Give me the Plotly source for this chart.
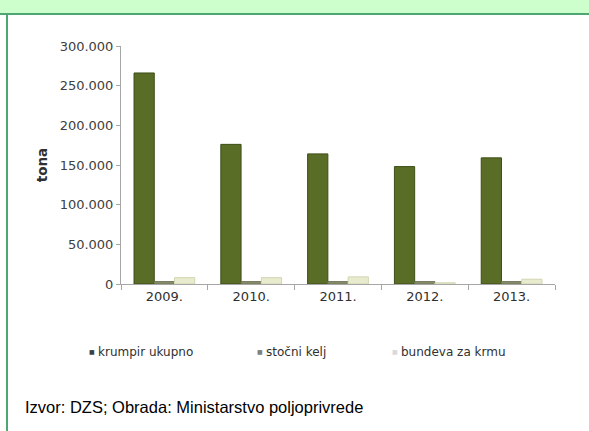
import plotly.graph_objects as go

years = ["2009.", "2010.", "2011.", "2012.", "2013."]
krumpir_ukupno = [266000, 176000, 164000, 148000, 159000]
stocni_kelj = [3000, 3000, 3000, 3000, 3000]
bundeva_za_krmu = [8000, 8000, 9000, 1500, 6000]
series_names = ["krumpir ukupno", "stočni kelj", "bundeva za krmu"]
y_ticks = [0, 50000, 100000, 150000, 200000, 250000, 300000]
y_tick_text = ["0", "50.000", "100.000", "150.000", "200.000", "250.000", "300.000"]

W, H = 589, 431
L, R, T, B = 121, 555, 46, 284

def px(x):
    return (x - L) / (R - L)

def py(y):
    return (B - y) / (B - T)

colors = ["#596D27", "#8A8F6E", "#E9EBCF"]
edges = ["#3E4E18", "#6E7356", "#D2D6B2"]

fig = go.Figure()
for name, vals, c, e in zip(series_names, [krumpir_ukupno, stocni_kelj, bundeva_za_krmu], colors, edges):
    fig.add_trace(go.Bar(x=years, y=vals, name=name, marker=dict(color=c, line=dict(color=e, width=1))))

fig.update_layout(
    width=W, height=H,
    margin=dict(l=L, r=W - R, t=T, b=H - B),
    paper_bgcolor="white", plot_bgcolor="white",
    showlegend=False,
    barmode="group", bargap=0.3, bargroupgap=0,
    font=dict(family="DejaVu Sans", color="#404040"),
    dragmode=False, hovermode=False,
)
fig.update_xaxes(
    showline=True, linecolor="#A6A6A6", linewidth=1,
    ticks="outside", tickson="boundaries", ticklen=5, tickcolor="#A6A6A6",
    tickfont=dict(size=13, color="#303030", family="DejaVu Sans"),
    showgrid=False,
)
fig.update_yaxes(
    range=[0, 300000], tickvals=y_ticks, ticktext=y_tick_text,
    showline=True, linecolor="#A6A6A6", linewidth=1,
    ticks="outside", ticklen=4, tickcolor="#A6A6A6",
    tickfont=dict(size=13, color="#404040", family="DejaVu Sans"),
    showgrid=False, zeroline=False,
    title=dict(text="<b>tona</b>", font=dict(size=13.5, color="#303030", family="DejaVu Sans"), standoff=8),
)

noline = dict(width=0, color="rgba(0,0,0,0)")
shapes = [
    dict(type="rect", xref="paper", yref="paper", x0=px(0), x1=px(W), y0=py(13), y1=py(0),
         fillcolor="#CCFFCC", line=noline, layer="below"),
    dict(type="rect", xref="paper", yref="paper", x0=px(0), x1=px(W), y0=py(15), y1=py(13),
         fillcolor="#4CA772", line=noline, layer="below"),
    dict(type="rect", xref="paper", yref="paper", x0=px(6), x1=px(8), y0=py(H), y1=py(15),
         fillcolor="#4CA772", line=noline, layer="below"),
]
fig.update_layout(shapes=shapes)

annotations = []
legend_x = [92, 260, 395]
marker_cols = ["#404040", "#808080", "#D9D9D9"]
for name, lx, mc in zip(series_names, legend_x, marker_cols):
    annotations.append(dict(xref="paper", yref="paper", x=px(lx), y=py(352), xanchor="center", yanchor="middle",
                            text="■", showarrow=False, font=dict(size=6, color=mc)))
    annotations.append(dict(xref="paper", yref="paper", x=px(lx + 4), y=py(352), xanchor="left", yanchor="middle",
                            text=name, showarrow=False, font=dict(size=12, color="#303030", family="DejaVu Sans")))
annotations.append(dict(xref="paper", yref="paper", x=px(23), y=py(407), xanchor="left", yanchor="middle",
                        text="Izvor: DZS; Obrada: Ministarstvo poljoprivrede", showarrow=False,
                        font=dict(size=16.5, color="#000000", family="Liberation Sans")))
fig.update_layout(annotations=annotations)

fig.write_html("out.html", config={"staticPlot": True, "displayModeBar": False},
               post_script="document.body.style.margin='0';document.body.style.overflow='hidden';"
                           "document.documentElement.style.overflow='hidden';")
